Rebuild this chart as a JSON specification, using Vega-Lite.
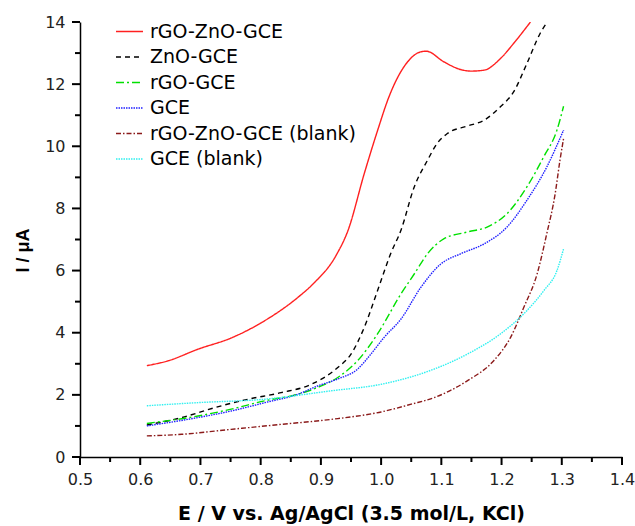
{
  "$schema": "https://vega.github.io/schema/vega-lite/v6.json",
  "autosize": "none",
  "width": 542,
  "height": 435,
  "padding": {"left": 80, "top": 22, "right": 13, "bottom": 69},
  "background": "white",
  "config": {
    "view": {"stroke": null},
    "font": "DejaVu Sans",
    "axis": {"grid": false, "domainColor": "#000", "domainWidth": 1.5, "labelColor": "#222", "labelFontSize": 16, "titleFontSize": 19, "titleFontWeight": "bold", "titleColor": "#000", "labelFont": "DejaVu Sans", "titleFont": "DejaVu Sans"},
    "legend": {"padding": 0}
  },
  "datasets": {
    "xmajor": [{"x": 0.5}, {"x": 0.6}, {"x": 0.7}, {"x": 0.8}, {"x": 0.9}, {"x": 1.0}, {"x": 1.1}, {"x": 1.2}, {"x": 1.3}, {"x": 1.4}],
    "xminor": [{"x": 0.55}, {"x": 0.65}, {"x": 0.75}, {"x": 0.85}, {"x": 0.95}, {"x": 1.05}, {"x": 1.15}, {"x": 1.25}, {"x": 1.35}],
    "ymajor": [{"y": 0}, {"y": 2}, {"y": 4}, {"y": 6}, {"y": 8}, {"y": 10}, {"y": 12}, {"y": 14}],
    "yminor": [{"y": 1}, {"y": 3}, {"y": 5}, {"y": 7}, {"y": 9}, {"y": 11}, {"y": 13}],
    "curves": [
    {"s": "rGO-ZnO-GCE", "x": 0.611, "y": 2.94},
    {"s": "rGO-ZnO-GCE", "x": 0.647, "y": 3.10},
    {"s": "rGO-ZnO-GCE", "x": 0.696, "y": 3.47},
    {"s": "rGO-ZnO-GCE", "x": 0.751, "y": 3.83},
    {"s": "rGO-ZnO-GCE", "x": 0.807, "y": 4.39},
    {"s": "rGO-ZnO-GCE", "x": 0.862, "y": 5.14},
    {"s": "rGO-ZnO-GCE", "x": 0.887, "y": 5.57},
    {"s": "rGO-ZnO-GCE", "x": 0.925, "y": 6.48},
    {"s": "rGO-ZnO-GCE", "x": 0.945, "y": 7.29},
    {"s": "rGO-ZnO-GCE", "x": 0.972, "y": 9.12},
    {"s": "rGO-ZnO-GCE", "x": 0.994, "y": 10.5},
    {"s": "rGO-ZnO-GCE", "x": 1.013, "y": 11.59},
    {"s": "rGO-ZnO-GCE", "x": 1.038, "y": 12.56},
    {"s": "rGO-ZnO-GCE", "x": 1.066, "y": 13.04},
    {"s": "rGO-ZnO-GCE", "x": 1.075, "y": 13.06},
    {"s": "rGO-ZnO-GCE", "x": 1.104, "y": 12.72},
    {"s": "rGO-ZnO-GCE", "x": 1.132, "y": 12.47},
    {"s": "rGO-ZnO-GCE", "x": 1.149, "y": 12.42},
    {"s": "rGO-ZnO-GCE", "x": 1.171, "y": 12.45},
    {"s": "rGO-ZnO-GCE", "x": 1.198, "y": 12.82},
    {"s": "rGO-ZnO-GCE", "x": 1.220, "y": 13.31},
    {"s": "rGO-ZnO-GCE", "x": 1.248, "y": 14.0},
    {"s": "ZnO-GCE", "x": 0.611, "y": 1.03},
    {"s": "ZnO-GCE", "x": 0.669, "y": 1.27},
    {"s": "ZnO-GCE", "x": 0.724, "y": 1.59},
    {"s": "ZnO-GCE", "x": 0.779, "y": 1.86},
    {"s": "ZnO-GCE", "x": 0.834, "y": 2.07},
    {"s": "ZnO-GCE", "x": 0.884, "y": 2.34},
    {"s": "ZnO-GCE", "x": 0.928, "y": 2.88},
    {"s": "ZnO-GCE", "x": 0.950, "y": 3.31},
    {"s": "ZnO-GCE", "x": 0.972, "y": 4.17},
    {"s": "ZnO-GCE", "x": 0.994, "y": 5.35},
    {"s": "ZnO-GCE", "x": 1.016, "y": 6.55},
    {"s": "ZnO-GCE", "x": 1.033, "y": 7.3},
    {"s": "ZnO-GCE", "x": 1.055, "y": 8.69},
    {"s": "ZnO-GCE", "x": 1.077, "y": 9.55},
    {"s": "ZnO-GCE", "x": 1.093, "y": 10.09},
    {"s": "ZnO-GCE", "x": 1.110, "y": 10.41},
    {"s": "ZnO-GCE", "x": 1.143, "y": 10.65},
    {"s": "ZnO-GCE", "x": 1.171, "y": 10.84},
    {"s": "ZnO-GCE", "x": 1.198, "y": 11.27},
    {"s": "ZnO-GCE", "x": 1.220, "y": 11.75},
    {"s": "ZnO-GCE", "x": 1.242, "y": 12.66},
    {"s": "ZnO-GCE", "x": 1.264, "y": 13.63},
    {"s": "ZnO-GCE", "x": 1.276, "y": 14.0},
    {"s": "rGO-GCE", "x": 0.611, "y": 1.08},
    {"s": "rGO-GCE", "x": 0.696, "y": 1.32},
    {"s": "rGO-GCE", "x": 0.751, "y": 1.54},
    {"s": "rGO-GCE", "x": 0.807, "y": 1.81},
    {"s": "rGO-GCE", "x": 0.862, "y": 2.02},
    {"s": "rGO-GCE", "x": 0.895, "y": 2.24},
    {"s": "rGO-GCE", "x": 0.928, "y": 2.56},
    {"s": "rGO-GCE", "x": 0.961, "y": 3.10},
    {"s": "rGO-GCE", "x": 0.994, "y": 3.96},
    {"s": "rGO-GCE", "x": 1.033, "y": 5.25},
    {"s": "rGO-GCE", "x": 1.055, "y": 5.89},
    {"s": "rGO-GCE", "x": 1.077, "y": 6.54},
    {"s": "rGO-GCE", "x": 1.104, "y": 7.02},
    {"s": "rGO-GCE", "x": 1.143, "y": 7.24},
    {"s": "rGO-GCE", "x": 1.176, "y": 7.40},
    {"s": "rGO-GCE", "x": 1.209, "y": 7.83},
    {"s": "rGO-GCE", "x": 1.242, "y": 8.69},
    {"s": "rGO-GCE", "x": 1.270, "y": 9.66},
    {"s": "rGO-GCE", "x": 1.292, "y": 10.52},
    {"s": "rGO-GCE", "x": 1.303, "y": 11.29},
    {"s": "GCE", "x": 0.611, "y": 1.0},
    {"s": "GCE", "x": 0.696, "y": 1.27},
    {"s": "GCE", "x": 0.751, "y": 1.48},
    {"s": "GCE", "x": 0.807, "y": 1.75},
    {"s": "GCE", "x": 0.862, "y": 2.02},
    {"s": "GCE", "x": 0.895, "y": 2.29},
    {"s": "GCE", "x": 0.928, "y": 2.51},
    {"s": "GCE", "x": 0.961, "y": 2.83},
    {"s": "GCE", "x": 0.983, "y": 3.31},
    {"s": "GCE", "x": 1.005, "y": 3.85},
    {"s": "GCE", "x": 1.033, "y": 4.44},
    {"s": "GCE", "x": 1.066, "y": 5.46},
    {"s": "GCE", "x": 1.099, "y": 6.21},
    {"s": "GCE", "x": 1.132, "y": 6.54},
    {"s": "GCE", "x": 1.171, "y": 6.86},
    {"s": "GCE", "x": 1.209, "y": 7.40},
    {"s": "GCE", "x": 1.242, "y": 8.26},
    {"s": "GCE", "x": 1.275, "y": 9.33},
    {"s": "GCE", "x": 1.303, "y": 10.52},
    {"s": "rGO-ZnO-GCE (blank)", "x": 0.611, "y": 0.68},
    {"s": "rGO-ZnO-GCE (blank)", "x": 0.669, "y": 0.73},
    {"s": "rGO-ZnO-GCE (blank)", "x": 0.751, "y": 0.89},
    {"s": "rGO-ZnO-GCE (blank)", "x": 0.834, "y": 1.05},
    {"s": "rGO-ZnO-GCE (blank)", "x": 0.917, "y": 1.21},
    {"s": "rGO-ZnO-GCE (blank)", "x": 1.0, "y": 1.45},
    {"s": "rGO-ZnO-GCE (blank)", "x": 1.050, "y": 1.7},
    {"s": "rGO-ZnO-GCE (blank)", "x": 1.088, "y": 1.91},
    {"s": "rGO-ZnO-GCE (blank)", "x": 1.143, "y": 2.45},
    {"s": "rGO-ZnO-GCE (blank)", "x": 1.187, "y": 3.10},
    {"s": "rGO-ZnO-GCE (blank)", "x": 1.215, "y": 3.85},
    {"s": "rGO-ZnO-GCE (blank)", "x": 1.237, "y": 4.82},
    {"s": "rGO-ZnO-GCE (blank)", "x": 1.259, "y": 5.89},
    {"s": "rGO-ZnO-GCE (blank)", "x": 1.275, "y": 7.18},
    {"s": "rGO-ZnO-GCE (blank)", "x": 1.289, "y": 8.47},
    {"s": "rGO-ZnO-GCE (blank)", "x": 1.297, "y": 9.55},
    {"s": "rGO-ZnO-GCE (blank)", "x": 1.303, "y": 10.25},
    {"s": "GCE (blank)", "x": 0.611, "y": 1.65},
    {"s": "GCE (blank)", "x": 0.696, "y": 1.75},
    {"s": "GCE (blank)", "x": 0.807, "y": 1.86},
    {"s": "GCE (blank)", "x": 0.917, "y": 2.13},
    {"s": "GCE (blank)", "x": 1.0, "y": 2.34},
    {"s": "GCE (blank)", "x": 1.050, "y": 2.58},
    {"s": "GCE (blank)", "x": 1.088, "y": 2.83},
    {"s": "GCE (blank)", "x": 1.143, "y": 3.31},
    {"s": "GCE (blank)", "x": 1.198, "y": 3.96},
    {"s": "GCE (blank)", "x": 1.242, "y": 4.71},
    {"s": "GCE (blank)", "x": 1.270, "y": 5.35},
    {"s": "GCE (blank)", "x": 1.292, "y": 6.0},
    {"s": "GCE (blank)", "x": 1.303, "y": 6.70}
  ]},
  "layer": [
    {
      "data": {"name": "curves"},
      "mark": {"type": "line", "interpolate": "monotone", "strokeWidth": 1.4, "clip": true},
      "encoding": {
        "x": {"field": "x", "type": "quantitative",
          "scale": {"domain": [0.5, 1.4], "nice": false, "zero": false},
          "axis": {"title": "E / V vs. Ag/AgCl (3.5 mol/L, KCl)", "orient": "bottom",
            "values": [0.5,0.6,0.7,0.8,0.9,1.0,1.1,1.2,1.3,1.4], "format": ".1f",
            "ticks": false, "labelPadding": 14, "titleY": 62, "titleBaseline": "alphabetic", "labelFlush": false, "labelOverlap": false}},
        "y": {"field": "y", "type": "quantitative",
          "scale": {"domain": [0, 14], "nice": false},
          "axis": {"title": "I / μA", "orient": "left", "titleFont": "Liberation Sans", "titleFontSize": 18,
            "values": [0,2,4,6,8,10,12,14],
            "ticks": false, "labelPadding": 15, "titleX": -57, "titleY": 228, "titleBaseline": "middle", "labelOverlap": false}},
        "color": {"field": "s", "type": "nominal",
          "scale": {"domain": ["rGO-ZnO-GCE", "ZnO-GCE", "rGO-GCE", "GCE", "rGO-ZnO-GCE (blank)", "GCE (blank)"],
            "range": ["#ff2020", "#000000", "#00e000", "#2020ff", "#8b1a1a", "#30f0f0"]},
          "legend": {"title": null, "orient": "none", "legendX": 35, "legendY": -5, "symbolType": "stroke", "symbolSize": 729, "symbolStrokeWidth": 1.4, "labelFontSize": 19, "labelLimit": 400, "labelColor": "#000", "labelFont": "DejaVu Sans", "labelOffset": 6, "rowPadding": 0.5}},
        "strokeDash": {"field": "s", "type": "nominal",
          "scale": {"domain": ["rGO-ZnO-GCE", "ZnO-GCE", "rGO-GCE", "GCE", "rGO-ZnO-GCE (blank)", "GCE (blank)"],
            "range": [[1, 0], [5, 4], [8, 3, 2, 3], [1.5, 1], [5, 2, 1.5, 2], [1.5, 1]]},
          "legend": {"title": null, "orient": "none", "legendX": 35, "legendY": -5, "symbolType": "stroke", "symbolSize": 729, "symbolStrokeWidth": 1.4, "labelFontSize": 19, "labelLimit": 400, "labelColor": "#000", "labelFont": "DejaVu Sans", "labelOffset": 6, "rowPadding": 0.5}}
      }
    },
    {
      "data": {"name": "xmajor"},
      "mark": {"type": "tick", "orient": "vertical", "size": 8, "thickness": 2, "color": "#000", "opacity": 1, "yOffset": 4, "clip": false},
      "encoding": {
        "x": {"field": "x", "type": "quantitative"},
        "y": {"datum": 0, "type": "quantitative"}
      }
    },
    {
      "data": {"name": "xminor"},
      "mark": {"type": "tick", "orient": "vertical", "size": 5, "thickness": 2, "color": "#000", "opacity": 1, "yOffset": 2.5, "clip": false},
      "encoding": {
        "x": {"field": "x", "type": "quantitative"},
        "y": {"datum": 0, "type": "quantitative"}
      }
    },
    {
      "data": {"name": "ymajor"},
      "mark": {"type": "tick", "orient": "horizontal", "size": 8, "thickness": 2, "color": "#000", "opacity": 1, "xOffset": -4, "clip": false},
      "encoding": {
        "y": {"field": "y", "type": "quantitative"},
        "x": {"datum": 0.5, "type": "quantitative"}
      }
    },
    {
      "data": {"name": "yminor"},
      "mark": {"type": "tick", "orient": "horizontal", "size": 5, "thickness": 2, "color": "#000", "opacity": 1, "xOffset": -2.5, "clip": false},
      "encoding": {
        "y": {"field": "y", "type": "quantitative"},
        "x": {"datum": 0.5, "type": "quantitative"}
      }
    }
  ]
}
